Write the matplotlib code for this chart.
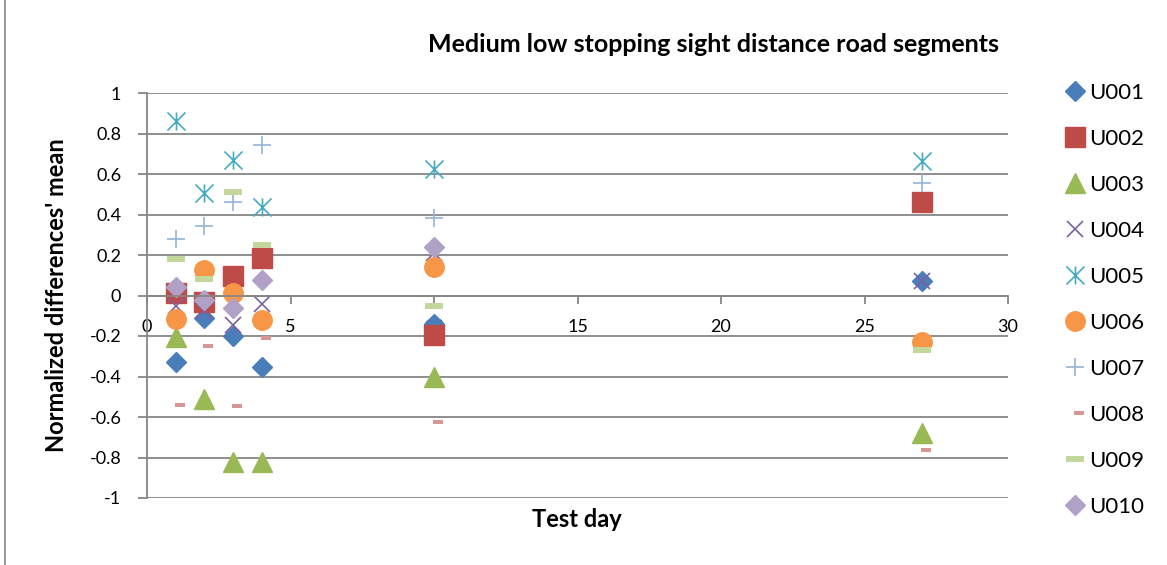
import matplotlib.pyplot as plt
import numpy as np
from matplotlib.path import Path
from matplotlib.lines import Line2D

plt.rcParams['font.family'] = ['Lato', 'DejaVu Sans']

# test days and normalized differences' mean per road segment
days = [1, 2, 3, 4, 10, 27]
u001 = [-0.33, -0.11, -0.20, -0.355, -0.14, 0.07]
u002 = [0.01, -0.03, 0.095, 0.185, -0.195, 0.46]
u003 = [-0.205, -0.51, -0.82, -0.82, -0.40, -0.68]
u004 = [-0.05, -0.075, -0.145, -0.04, 0.21, 0.07]
u005 = [0.86, 0.505, 0.67, 0.435, 0.625, 0.665]
u006 = [-0.115, 0.125, 0.01, -0.12, 0.14, -0.23]
u007 = [0.28, 0.345, 0.46, 0.745, 0.385, 0.555]
u008 = [-0.54, -0.25, -0.545, -0.21, -0.625, -0.765]
u009 = [0.178, 0.08, 0.51, 0.25, -0.05, -0.27]
u010 = [0.04, -0.02, -0.06, 0.075, 0.24, np.nan]

names = ['U001', 'U002', 'U003', 'U004', 'U005', 'U006', 'U007', 'U008', 'U009', 'U010']
values = [u001, u002, u003, u004, u005, u006, u007, u008, u009, u010]
colors = ['#4A7EBB', '#BE4B48', '#98B954', '#7D60A0', '#46AAC5',
          '#F79646', '#95B3D7', '#D99694', '#C3D69B', '#B2A1C7']

# excel style markers
star = Path([(0, -1), (0, 1), (-1, -1), (1, 1), (-1, 1), (1, -1)],
            [Path.MOVETO, Path.LINETO, Path.MOVETO, Path.LINETO, Path.MOVETO, Path.LINETO])
short_dash = Path([(-0.11, -0.25), (1, -0.25), (1, 0.25), (-0.11, 0.25), (-0.11, -0.25)],
                  [Path.MOVETO, Path.LINETO, Path.LINETO, Path.LINETO, Path.CLOSEPOLY])
long_dash = Path([(-1, -0.3), (1, -0.3), (1, 0.3), (-1, 0.3), (-1, -0.3)],
                 [Path.MOVETO, Path.LINETO, Path.LINETO, Path.LINETO, Path.CLOSEPOLY])

styles = [
    dict(marker='D', ms=10.5),
    dict(marker='s', ms=14),
    dict(marker='^', ms=14),
    dict(marker='x', ms=11, mew=1.2, mfc='none'),
    dict(marker=star, ms=13, mew=1.2, mfc='none'),
    dict(marker='o', ms=14),
    dict(marker='+', ms=13, mew=1.2),
    dict(marker=short_dash, ms=13, mew=0),
    dict(marker=long_dash, ms=13, mew=0),
    dict(marker='D', ms=10.5),
]

fig = plt.figure(figsize=(11.67, 5.65), dpi=100)
W, H = 1167, 565
ax = fig.add_axes([147 / W, 1 - 498 / H, (1008 - 147) / W, (498 - 93) / H])

for name, vals, col, st in zip(names, values, colors, styles):
    ax.plot(days, vals, linestyle='none', color=col, mec=col, label=name, **st)

grid_col = '#868686'
ax.set_xlim(0, 30)
ax.set_ylim(-1, 1)
ax.set_xticks(np.arange(0, 31, 5))
ax.set_yticks(np.arange(-1, 1.01, 0.2))
ax.set_yticklabels(['-1', '-0.8', '-0.6', '-0.4', '-0.2', '0', '0.2', '0.4', '0.6', '0.8', '1'])
ax.yaxis.grid(True, color=grid_col, linewidth=1.3)
ax.set_axisbelow(True)
ax.spines['top'].set_visible(False)
ax.spines['right'].set_visible(False)
ax.spines['bottom'].set_position(('data', 0))
ax.spines['left'].set_color(grid_col)
ax.spines['bottom'].set_color(grid_col)
ax.spines['left'].set_linewidth(1.3)
ax.spines['bottom'].set_linewidth(1.3)
ax.tick_params(axis='y', direction='out', length=6.5, width=1.3, color=grid_col, pad=12, labelsize=13)
ax.tick_params(axis='x', direction='out', length=6, width=1.3, color=grid_col, pad=11, labelsize=13)

ax.set_xlabel('Test day', fontsize=17, fontweight='bold', labelpad=0)
ax.xaxis.set_label_coords((577 - 147) / (1008 - 147), -(508 - 498) / (498 - 93))
ax.set_ylabel("Normalized differences' mean", fontsize=17, fontweight='bold')
ax.yaxis.set_label_coords(-(147 - 68) / (1008 - 147), 0.5)

fig.text(713 / W, 1 - 45 / H, 'Medium low stopping sight distance road segments',
         ha='center', va='center', fontsize=18, fontweight='bold')

fig.legend(loc='upper left', bbox_to_anchor=(1046 / W, 1 - 63 / H), frameon=False,
           numpoints=1, handlelength=0.8, handletextpad=0.25, labelspacing=1.17, fontsize=16)

# chart border on the left
fig.add_artist(Line2D([5 / W, 5 / W], [0, 1], color=grid_col, linewidth=1.2))

fig.savefig('out.png', dpi=100)
